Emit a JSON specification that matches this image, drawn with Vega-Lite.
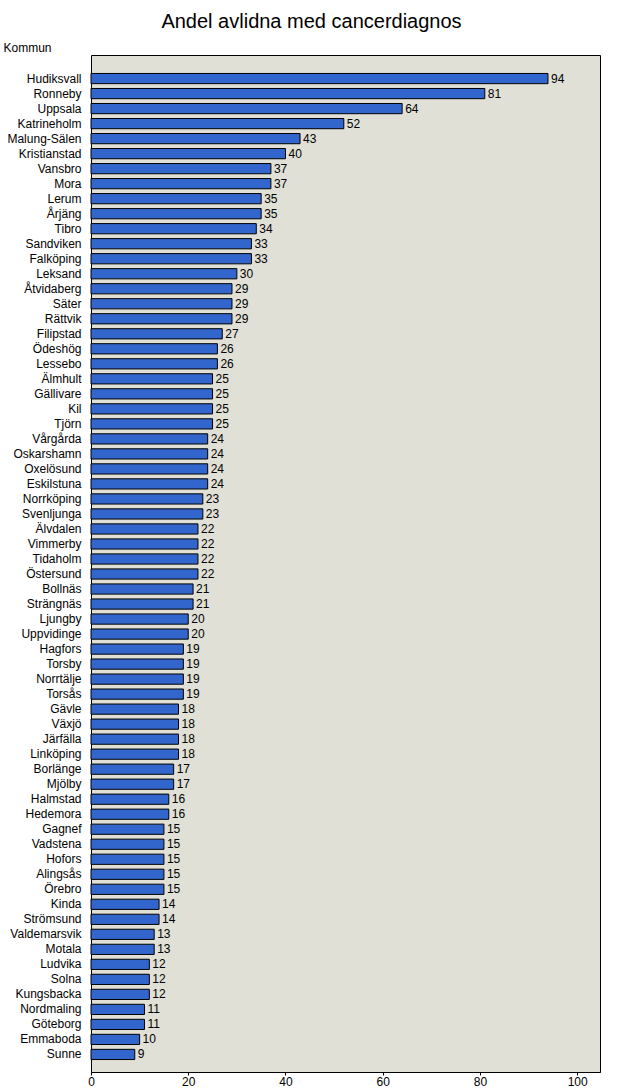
{
  "$schema": "https://vega.github.io/schema/vega-lite/v6.json",
  "autosize": {"type": "none"},
  "padding": {"left": 91, "top": 55, "right": 22, "bottom": 19},
  "width": 509,
  "height": 1017,
  "background": "#ffffff",
  "title": {
    "text": "Andel avlidna med cancerdiagnos",
    "font": "Liberation Sans",
    "fontSize": 20,
    "fontWeight": "normal",
    "color": "#000000",
    "anchor": "middle",
    "dx": -34,
    "offset": 9
  },
  "config": {
    "view": {"fill": "#e0e0d6", "stroke": "#000000", "strokeWidth": 1},
    "font": "Liberation Sans",
    "axis": {"labelFont": "Liberation Sans", "titleFont": "Liberation Sans", "labelColor": "#000000", "titleColor": "#000000"}
  },
  "data": {
    "values": [
      {"kommun": "Hudiksvall", "andel": 94},
      {"kommun": "Ronneby", "andel": 81},
      {"kommun": "Uppsala", "andel": 64},
      {"kommun": "Katrineholm", "andel": 52},
      {"kommun": "Malung-Sälen", "andel": 43},
      {"kommun": "Kristianstad", "andel": 40},
      {"kommun": "Vansbro", "andel": 37},
      {"kommun": "Mora", "andel": 37},
      {"kommun": "Lerum", "andel": 35},
      {"kommun": "Årjäng", "andel": 35},
      {"kommun": "Tibro", "andel": 34},
      {"kommun": "Sandviken", "andel": 33},
      {"kommun": "Falköping", "andel": 33},
      {"kommun": "Leksand", "andel": 30},
      {"kommun": "Åtvidaberg", "andel": 29},
      {"kommun": "Säter", "andel": 29},
      {"kommun": "Rättvik", "andel": 29},
      {"kommun": "Filipstad", "andel": 27},
      {"kommun": "Ödeshög", "andel": 26},
      {"kommun": "Lessebo", "andel": 26},
      {"kommun": "Älmhult", "andel": 25},
      {"kommun": "Gällivare", "andel": 25},
      {"kommun": "Kil", "andel": 25},
      {"kommun": "Tjörn", "andel": 25},
      {"kommun": "Vårgårda", "andel": 24},
      {"kommun": "Oskarshamn", "andel": 24},
      {"kommun": "Oxelösund", "andel": 24},
      {"kommun": "Eskilstuna", "andel": 24},
      {"kommun": "Norrköping", "andel": 23},
      {"kommun": "Svenljunga", "andel": 23},
      {"kommun": "Älvdalen", "andel": 22},
      {"kommun": "Vimmerby", "andel": 22},
      {"kommun": "Tidaholm", "andel": 22},
      {"kommun": "Östersund", "andel": 22},
      {"kommun": "Bollnäs", "andel": 21},
      {"kommun": "Strängnäs", "andel": 21},
      {"kommun": "Ljungby", "andel": 20},
      {"kommun": "Uppvidinge", "andel": 20},
      {"kommun": "Hagfors", "andel": 19},
      {"kommun": "Torsby", "andel": 19},
      {"kommun": "Norrtälje", "andel": 19},
      {"kommun": "Torsås", "andel": 19},
      {"kommun": "Gävle", "andel": 18},
      {"kommun": "Växjö", "andel": 18},
      {"kommun": "Järfälla", "andel": 18},
      {"kommun": "Linköping", "andel": 18},
      {"kommun": "Borlänge", "andel": 17},
      {"kommun": "Mjölby", "andel": 17},
      {"kommun": "Halmstad", "andel": 16},
      {"kommun": "Hedemora", "andel": 16},
      {"kommun": "Gagnef", "andel": 15},
      {"kommun": "Vadstena", "andel": 15},
      {"kommun": "Hofors", "andel": 15},
      {"kommun": "Alingsås", "andel": 15},
      {"kommun": "Örebro", "andel": 15},
      {"kommun": "Kinda", "andel": 14},
      {"kommun": "Strömsund", "andel": 14},
      {"kommun": "Valdemarsvik", "andel": 13},
      {"kommun": "Motala", "andel": 13},
      {"kommun": "Ludvika", "andel": 12},
      {"kommun": "Solna", "andel": 12},
      {"kommun": "Kungsbacka", "andel": 12},
      {"kommun": "Nordmaling", "andel": 11},
      {"kommun": "Göteborg", "andel": 11},
      {"kommun": "Emmaboda", "andel": 10},
      {"kommun": "Sunne", "andel": 9}
    ]
  },
  "encoding": {
    "y": {
      "field": "kommun",
      "type": "nominal",
      "sort": null,
      "scale": {"range": [6, 1017], "paddingInner": 0.32, "paddingOuter": 0.83},
      "axis": {
        "title": "Kommun",
        "titleAngle": 0,
        "titleX": -88,
        "titleY": -8,
        "titleAlign": "left",
        "titleBaseline": "middle",
        "titleFontSize": 12,
        "titleFontWeight": "normal",
        "ticks": false,
        "domain": false,
        "labelFontSize": 12,
        "labelPadding": 10
      }
    },
    "x": {
      "field": "andel",
      "type": "quantitative",
      "scale": {"domain": [0, 104.7], "nice": false, "zero": true},
      "axis": {
        "title": null,
        "values": [0, 20, 40, 60, 80, 100],
        "grid": false,
        "domainColor": "#000000",
        "tickColor": "#000000",
        "tickSize": 3,
        "labelPadding": 1,
        "labelFontSize": 12,
        "labelFlush": false
      }
    }
  },
  "layer": [
    {
      "mark": {"type": "bar", "fill": "#3366cc", "stroke": "#000000", "strokeWidth": 1}
    },
    {
      "mark": {"type": "text", "align": "left", "baseline": "middle", "dx": 3, "fontSize": 12, "color": "#000000"},
      "encoding": {"text": {"field": "andel", "type": "quantitative"}}
    }
  ]
}
